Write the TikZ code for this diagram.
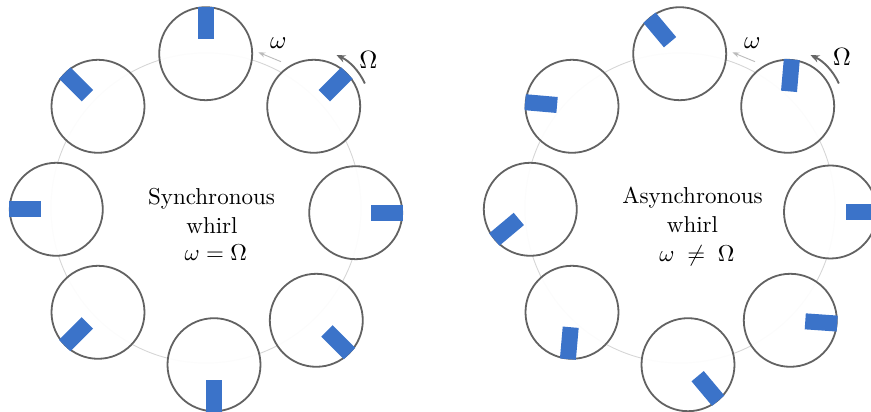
\documentclass[tikz,border=0pt]{standalone}
\usetikzlibrary{arrows.meta,calc}
\definecolor{rim}{HTML}{626262}
\definecolor{orbitc}{HTML}{D6D6D6}
\definecolor{markc}{HTML}{3B73C9}
\definecolor{omegac}{HTML}{BBBBBB}
\definecolor{bigarrc}{HTML}{666666}
\begin{document}
\begin{tikzpicture}[x=1pt,y=1pt,
  rotor/.style={circle, draw=rim, line width=1.8pt, fill=white, fill opacity=0.93, minimum size=93pt, inner sep=0pt},
  markbar/.style={rectangle, fill=markc, minimum width=32pt, minimum height=16pt, inner sep=0pt},
  orbit/.style={draw=orbitc, line width=0.9pt},
  smallarrow/.style={draw=omegac, line width=0.9pt, -{Stealth[length=7pt,width=5pt]}},
  bigarrow/.style={draw=bigarrc, line width=1.9pt, -{Stealth[length=9pt,width=7.5pt]}},
  txt/.style={anchor=base, inner sep=0pt, font=\fontsize{10}{12}\selectfont, scale=2.3},
  lbl/.style={inner sep=0pt, font=\fontsize{10}{12}\selectfont, scale=2.5}]
\useasboundingbox (0,0) rectangle (871,412);

% orbits
\coordinate (lO) at (206,204);
\coordinate (rO) at (680,204);
\draw[orbit] (lO) circle[radius=155];
\draw[orbit] (rO) circle[radius=155];

% left rotors (synchronous)
\foreach \n/\x/\y/\a in {lT/205.7/358.3/90, lNE/313.7/305.7/45, lE/355.7/199.3/0, lSE/316.3/91.7/-45,
  lS/214/47.3/-90, lSW/98/99.7/-135, lW/56.3/202.7/180, lNW/98/305.7/135}{
  \node[rotor] (\n) at (\x,\y) {};
  \node[markbar, rotate=\a] (\n m) at ($(\n)+(\a:31)$) {};
}
% right rotors (asynchronous)
\foreach \n/\x/\y/\a in {rT/679.7/358.3/130, rNE/787.7/305.7/85, rE/830.5/200/0, rSE/790.3/91.7/-4,
  rS/688/47.3/-50, rSW/572/99.7/-95, rW/530.3/202.7/220, rNW/572/305.7/175}{
  \node[rotor] (\n) at (\x,\y) {};
  \node[markbar, rotate=\a] (\n m) at ($(\n)+(\a:31)$) {};
}

% left arrows and labels
\coordinate (lwS) at (281,350.3);
\coordinate (lwE) at (258.3,359.7);
\draw[smallarrow] (lwS) -- (lwE);
\node[lbl] (lw) at (278.3,369.3) {$\omega$};
\draw[bigarrow] ($(lNE)+(24:56)$) arc[start angle=24, end angle=66, radius=56];
\node[lbl] (lW) at (368.3,352) {$\Omega$};

% right arrows and labels
\coordinate (rwS) at (755,350.3);
\coordinate (rwE) at (732.3,359.7);
\draw[smallarrow] (rwS) -- (rwE);
\node[lbl] (rw) at (752.3,369.3) {$\omega$};
\draw[bigarrow] ($(rNE)+(24:56)$) arc[start angle=24, end angle=66, radius=56];
\node[lbl] (rWl) at (842,354.7) {$\Omega$};

% centre texts
\node[txt] (lt1) at (211.5,207) {Synchronous};
\node[txt] (lt2) at (212,178) {whirl};
\node[txt] (lt3) at (215.8,151.5) {$\omega=\Omega$};
\node[txt] (rt1) at (692.5,208) {Asynchronous};
\node[txt] (rt2) at (692.5,179.3) {whirl};
\node[txt] (rt3) at (697,150.5) {$\omega\;\neq\;\Omega$};
\end{tikzpicture}
\end{document}
